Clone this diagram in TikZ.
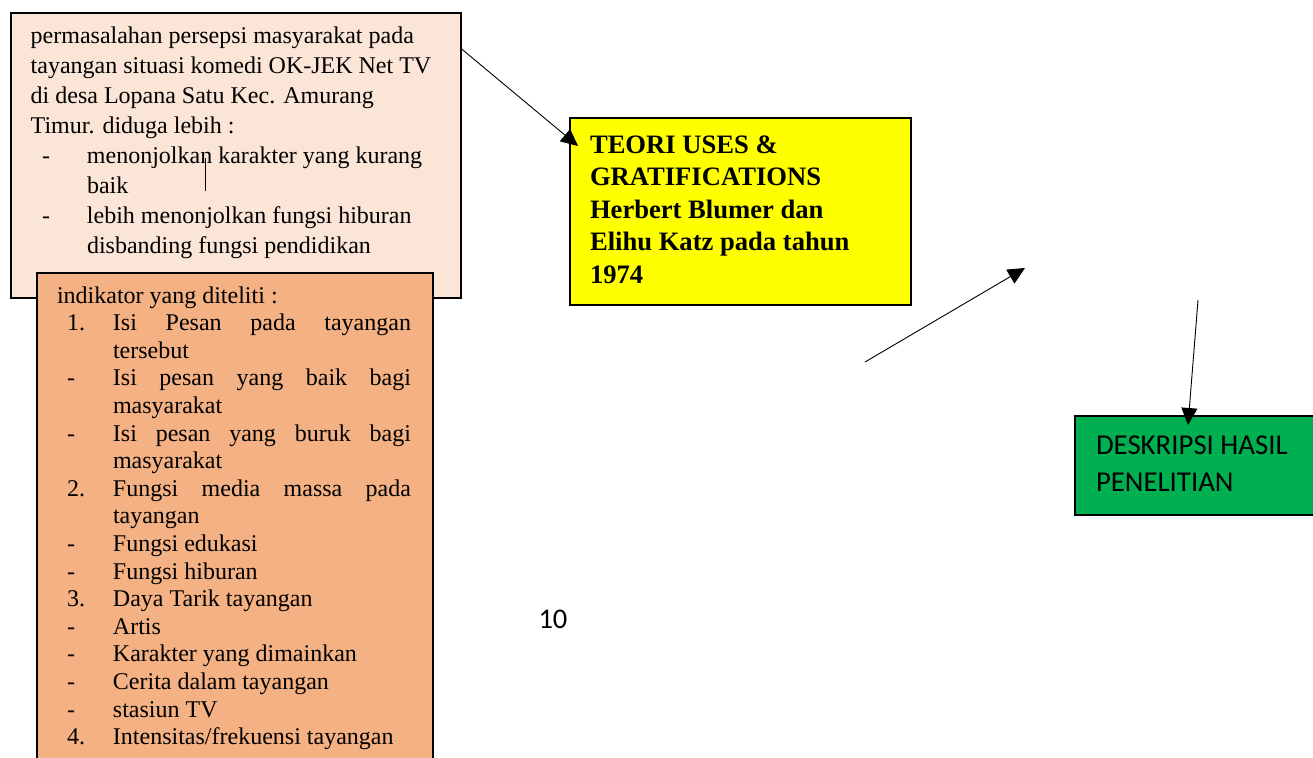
\documentclass[tikz,border=0pt]{standalone}
\usepackage{fontspec}
\setmainfont{Liberation Serif}
\newfontfamily\carlito{Carlito}
\usetikzlibrary{arrows.meta}
\definecolor{peach}{RGB}{251,229,214}
\definecolor{orangeb}{RGB}{244,177,131}
\definecolor{yel}{RGB}{255,255,0}
\definecolor{grn}{RGB}{0,176,80}
\tikzset{
  box/.style={draw=black,line width=1.6pt,anchor=north west,inner sep=0pt},
  arr/.style={line width=0.9pt,-{Triangle[length=17pt,width=16pt]}},
  txt/.style={anchor=base west,inner sep=0pt,outer sep=0pt}
}
\newcommand\dlA[2]{\hbox{\hbox to 56.3pt{\hskip 11.3pt #1\hfil}#2}}
\newcommand\dlB[2]{\hbox{\hbox to 56pt{\hskip 10pt #1\hfil}#2}}
\newcommand\jst[1]{\hbox to 298pt{#1}}
\begin{document}
\begin{tikzpicture}[x=1pt,y=-1pt]
\useasboundingbox (0,0) rectangle (1313,757);
\clip (0,0) rectangle (1313,757);
% box 1
\node[box,fill=peach,minimum width=450pt,minimum height=285pt] (b1) at (10,12) {};
\node[txt] (t1) at (30.7,44) {\fontsize{24}{30}\selectfont\vtop{\baselineskip=30pt
  \hbox{permasalahan persepsi masyarakat pada}
  \hbox{tayangan situasi komedi OK-JEK Net TV}
  \hbox{di desa Lopana Satu Kec. Amurang}
  \hbox{Timur. diduga lebih :}
  \dlA{-}{menonjolkan karakter yang kurang}
  \dlA{}{baik}
  \dlA{-}{lebih menonjolkan fungsi hiburan}
  \dlA{}{disbanding fungsi pendidikan}}};
\coordinate (v1) at (205,158);
\coordinate (v2) at (205,191);
\draw[line width=0.9pt] (v1) -- (v2);
% box 2
\node[box,fill=orangeb,minimum width=396pt,minimum height=520pt] (b2) at (36,272) {};
\node[txt] (t2) at (57,303) {\fontsize{24}{27.6}\selectfont\vtop{\baselineskip=27.6pt
  \hbox{indikator yang diteliti :}
  \dlB{1.}{\jst{Isi\hfill Pesan\hfill pada\hfill tayangan}}
  \dlB{}{tersebut}
  \dlB{-}{\jst{Isi\hfill pesan\hfill yang\hfill baik\hfill bagi}}
  \dlB{}{masyarakat}
  \dlB{-}{\jst{Isi\hfill pesan\hfill yang\hfill buruk\hfill bagi}}
  \dlB{}{masyarakat}
  \dlB{2.}{\jst{Fungsi\hfill media\hfill massa\hfill pada}}
  \dlB{}{tayangan}
  \dlB{-}{Fungsi edukasi}
  \dlB{-}{Fungsi hiburan}
  \dlB{3.}{Daya Tarik tayangan}
  \dlB{-}{Artis}
  \dlB{-}{Karakter yang dimainkan}
  \dlB{-}{Cerita dalam tayangan}
  \dlB{-}{stasiun TV}
  \dlB{4.}{Intensitas/frekuensi tayangan}}};
% yellow box
\node[box,fill=yel,minimum width=341pt,minimum height=187pt] (y1) at (569,117) {};
\node[txt] (ty) at (590,153) {\fontsize{26.6}{32.5}\selectfont\bfseries\vtop{\baselineskip=32.5pt
  \hbox{TEORI USES \&}
  \hbox{GRATIFICATIONS}
  \hbox{Herbert Blumer dan}
  \hbox{Elihu Katz pada tahun}
  \hbox{1974}}};
% green box
\node[box,fill=grn,minimum width=260pt,minimum height=99pt] (g1) at (1074,415) {};
\node[txt] (tg) at (1096,454) {\carlito\fontsize{28.8}{37.7}\selectfont\vtop{\baselineskip=37.7pt
  \hbox{DESKRIPSI HASIL}
  \hbox{PENELITIAN}}};
% page number
\node[txt] (pn) at (538.5,628) {\carlito\fontsize{28.5}{34}\selectfont 10};
% connectors
\coordinate (a1s) at (460,49);
\coordinate (a1e) at (578,146);
\draw[arr] (b1.east |- a1s) -- (a1e);
\coordinate (a2s) at (865,362);
\coordinate (a2e) at (1025,268);
\draw[arr] (a2s) -- (a2e);
\coordinate (a3s) at (1198,300);
\coordinate (a3e) at (1188,425);
\draw[arr] (a3s) -- (a3e);
\end{tikzpicture}
\end{document}
